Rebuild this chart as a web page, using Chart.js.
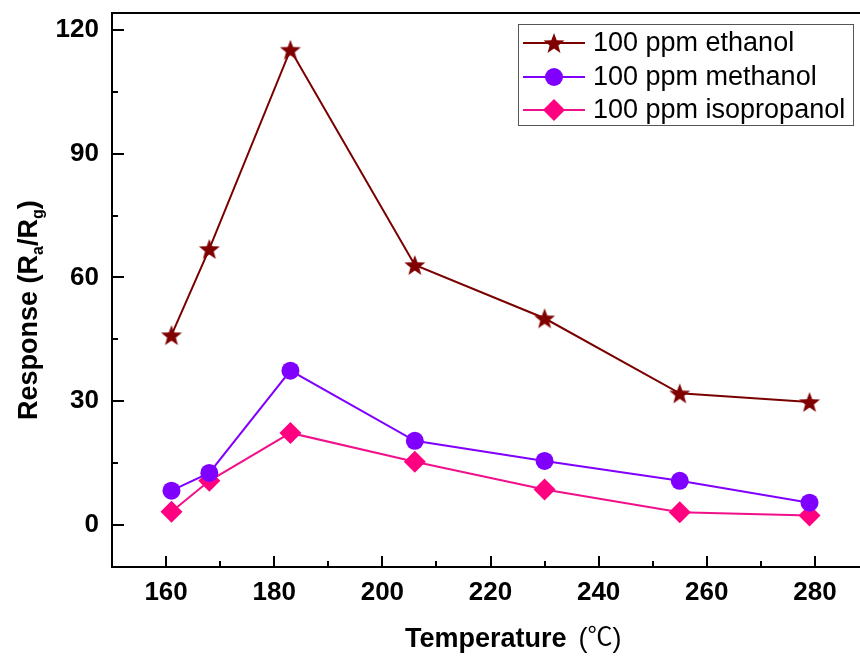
<!DOCTYPE html>
<html>
<head>
<meta charset="utf-8">
<script src="https://cdn.jsdelivr.net/npm/chart.js@4.4.1/dist/chart.umd.min.js"></script>
<style>
html,body{margin:0;padding:0;overflow:hidden;background:#fff;width:860px;height:657px;}
canvas{display:block;}
</style>
</head>
<body>
<canvas id="c" width="882" height="657"></canvas>
<script>
// ---- data ----
const temperatures = [161, 168, 183, 206, 230, 255, 279];
const ethanol = [46.0, 66.9, 115.2, 63.0, 50.1, 31.9, 29.8];
const methanol = [8.3, 12.6, 37.4, 20.4, 15.5, 10.7, 5.4];
const isopropanol = [3.2, 10.7, 22.3, 15.3, 8.6, 3.1, 2.3];
const seriesLabels = ['100 ppm ethanol', '100 ppm methanol', '100 ppm isopropanol'];
const xMajorTicks = [160, 180, 200, 220, 240, 260, 280];
const xMinorTicks = [170, 190, 210, 230, 250, 270, 290];
const yMajorTicks = [0, 30, 60, 90, 120];
const yMinorTicks = [15, 45, 75, 105];

const FONT = 'Arial, "Liberation Sans", sans-serif';

function makeStar(color, R, r) {
  const s = Math.ceil(R * 2 + 2);
  const cv = document.createElement('canvas');
  cv.width = s; cv.height = s;
  const g = cv.getContext('2d');
  g.fillStyle = color;
  g.beginPath();
  for (let i = 0; i < 10; i++) {
    const ang = -Math.PI / 2 + i * Math.PI / 5;
    const rad = i % 2 === 0 ? R : r;
    const px = s / 2 + rad * Math.cos(ang);
    const py = s / 2 + 1 + rad * Math.sin(ang);
    if (i === 0) g.moveTo(px, py); else g.lineTo(px, py);
  }
  g.closePath();
  g.fill();
  return cv;
}
const starImg = makeStar('#800000', 11, 4.6);

const toXY = (vals) => temperatures.map((t, i) => ({x: t, y: vals[i]}));

const datasets = [
  {label: seriesLabels[0], data: toXY(ethanol), borderColor: '#7a0000', backgroundColor: '#800000',
   borderWidth: 2, pointStyle: starImg, pointRadius: 11},
  {label: seriesLabels[1], data: toXY(methanol), borderColor: '#8000ff', backgroundColor: '#8000ff',
   borderWidth: 2, pointStyle: 'circle', pointRadius: 9, pointBorderWidth: 0},
  {label: seriesLabels[2], data: toXY(isopropanol), borderColor: '#f0108a', backgroundColor: '#ff0080',
   borderWidth: 2, pointStyle: 'rectRot', pointRadius: 11, pointBorderWidth: 0}
];

const decor = {
  id: 'decor',
  afterDraw(chart) {
    const ctx = chart.ctx;
    const ca = chart.chartArea;
    const xs = chart.scales.x, ys = chart.scales.y;
    ctx.save();
    ctx.strokeStyle = '#000';
    ctx.lineWidth = 2;
    // top frame
    ctx.beginPath();
    ctx.moveTo(ca.left - 1, ca.top);
    ctx.lineTo(ca.right + 1, ca.top);
    ctx.stroke();
    // inward ticks
    ctx.beginPath();
    xMajorTicks.forEach(v => { const p = Math.round(xs.getPixelForValue(v)); ctx.moveTo(p, ca.bottom); ctx.lineTo(p, ca.bottom - 11); });
    xMinorTicks.forEach(v => { const p = Math.round(xs.getPixelForValue(v)); ctx.moveTo(p, ca.bottom); ctx.lineTo(p, ca.bottom - 6); });
    yMajorTicks.forEach(v => { const p = Math.round(ys.getPixelForValue(v)); ctx.moveTo(ca.left, p); ctx.lineTo(ca.left + 12, p); });
    yMinorTicks.forEach(v => { const p = Math.round(ys.getPixelForValue(v)); ctx.moveTo(ca.left, p); ctx.lineTo(ca.left + 6, p); });
    ctx.stroke();

    // legend
    const lx = 518, ly = 24, lw = 335, lh = 101;
    ctx.lineWidth = 1;
    ctx.strokeStyle = '#555';
    ctx.strokeRect(lx + 0.5, ly + 0.5, lw, lh);
    const rows = [43, 77, 110];
    chart.data.datasets.forEach((ds, i) => {
      const y = rows[i];
      ctx.strokeStyle = ds.borderColor;
      ctx.lineWidth = 2;
      ctx.beginPath();
      ctx.moveTo(523, y); ctx.lineTo(585, y);
      ctx.stroke();
      const cx = 554;
      ctx.fillStyle = ds.backgroundColor;
      if (ds.pointStyle === 'circle') {
        ctx.beginPath(); ctx.arc(cx, y, 9, 0, Math.PI * 2); ctx.fill();
      } else if (ds.pointStyle === 'rectRot') {
        ctx.beginPath(); ctx.moveTo(cx - 11, y); ctx.lineTo(cx, y - 11); ctx.lineTo(cx + 11, y); ctx.lineTo(cx, y + 11); ctx.closePath(); ctx.fill();
      } else {
        ctx.drawImage(ds.pointStyle, cx - ds.pointStyle.width / 2, y - ds.pointStyle.height / 2);
      }
      ctx.fillStyle = '#000';
      ctx.font = '27px ' + FONT;
      ctx.textBaseline = 'middle';
      ctx.textAlign = 'left';
      ctx.fillText(ds.label, 593, y + 1);
    });

    // x title
    ctx.fillStyle = '#000';
    ctx.textBaseline = 'alphabetic';
    ctx.textAlign = 'left';
    ctx.font = 'bold 27px ' + FONT;
    ctx.fillText('Temperature', 405, 647);
    const w1 = 405 + ctx.measureText('Temperature').width + 12;
    ctx.font = '27px ' + FONT;
    ctx.fillText('(', w1, 647);
    const wp = ctx.measureText('(').width;
    ctx.font = '25px "Noto Sans CJK SC"';
    ctx.fillText('℃', w1 + wp, 645);
    const wc = ctx.measureText('℃').width;
    ctx.font = '27px ' + FONT;
    ctx.fillText(')', w1 + wp + wc, 647);

    // y title (rotated)
    ctx.save();
    ctx.translate(37, 420);
    ctx.rotate(-Math.PI / 2);
    let x = 0;
    const big = 'bold 27px ' + FONT, small = 'bold 16px ' + FONT;
    const parts = [['Response (R', big, 0], ['a', small, 6], ['/R', big, 0], ['g', small, 6], [')', big, 0]];
    parts.forEach(([s, f, dy]) => {
      ctx.font = f;
      ctx.fillText(s, x, dy);
      x += ctx.measureText(s).width;
    });
    ctx.restore();
    ctx.restore();
  }
};

const zeroPad = s => { s.paddingTop = 0; s.paddingBottom = 0; s.paddingLeft = 0; s.paddingRight = 0; };

new Chart(document.getElementById('c'), {
  type: 'line',
  data: {datasets},
  options: {
    responsive: false,
    devicePixelRatio: 1,
    animation: false,
    layout: {padding: {top: 9, right: 2, left: 0, bottom: 0}},
    plugins: {legend: {display: false}, tooltip: {enabled: false}},
    scales: {
      x: {
        type: 'linear', min: 150, max: 290,
        afterBuildTicks: s => { s.ticks = xMajorTicks.map(v => ({value: v})); },
        afterFit: s => { s.height = 90; zeroPad(s); },
        grid: {display: true, drawOnChartArea: false, drawTicks: false},
        border: {display: true, color: '#000', width: 2},
        ticks: {color: '#000', font: {family: FONT, size: 26, weight: 'bold'}, padding: 10, maxRotation: 0,
                callback: v => String(v)}
      },
      y: {
        min: -10.2, max: 124.1,
        afterBuildTicks: s => { s.ticks = yMajorTicks.map(v => ({value: v})); },
        afterFit: s => { s.width = 112; zeroPad(s); },
        grid: {display: true, drawOnChartArea: false, drawTicks: false},
        border: {display: true, color: '#000', width: 2},
        ticks: {color: '#000', font: {family: FONT, size: 26, weight: 'bold'}, padding: 13,
                callback: v => String(v)}
      }
    }
  },
  plugins: [decor]
});
</script>
</body>
</html>
